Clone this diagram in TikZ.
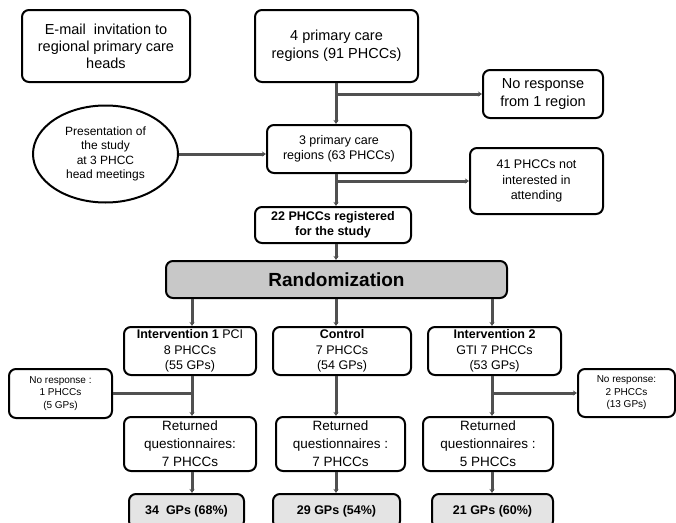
\documentclass[tikz,border=0pt]{standalone}
\usepackage{fontspec}
\setmainfont{Liberation Sans}
\usetikzlibrary{shapes,arrows.meta,positioning,calc}

\definecolor{linegray}{HTML}{505050}
\definecolor{randgray}{HTML}{C8C8C8}
\definecolor{gpgray}{HTML}{E4E4E4}

\tikzset{
    box/.style={draw,line width=2pt,rounded corners=7pt,align=center,inner sep=1pt},
    oval/.style={draw,ellipse,line width=2pt,align=center,inner sep=0pt},
    large/.style={font=\fontsize{14.5}{18}\selectfont},
    retfont/.style={font=\fontsize{13.5}{18}\selectfont},
    medium/.style={font=\fontsize{12.5}{15.5}\selectfont},
    mediumbold/.style={font=\fontsize{12.5}{15}\selectfont\bfseries},
    tiny/.style={font=\fontsize{10}{12.5}\selectfont},
    link/.style={draw=linegray,line width=3pt},
    arr/.style={link,-{Stealth[length=4pt,width=5pt]}}
}

\begin{document}
\begin{tikzpicture}[x=1pt,y=-1pt]
    \useasboundingbox (0,0) rectangle (676,522);

    % column lines
    \coordinate (col1) at (192,0);
    \coordinate (col2) at (336,0);
    \coordinate (col3) at (492,0);

    % top row
    \node[box,font=\fontsize{14.5}{17}\selectfont,minimum width=168pt,minimum height=72pt] (email) at (106,46)
        {E-mail\ \ invitation to\\regional primary care\\heads};
    \node[box,large,minimum width=163pt,minimum height=72pt] (four) at (336.5,46)
        {4 primary care\\regions (91 PHCCs)};
    \node[box,large,minimum width=120pt,minimum height=48pt] (noresp) at (543,94)
        {No response\\from 1 region};

    % regions
    \node[box,medium,minimum width=144pt,minimum height=48pt] (three) at (339,149)
        {3 primary care\\regions (63 PHCCs)};
    \node[oval,font=\fontsize{12}{14.3}\selectfont,minimum width=145pt,minimum height=97pt] (pres) at (105.5,154)
        {Presentation of\\the study\\at 3 PHCC\\head meetings};
    \node[box,medium,minimum width=133pt,minimum height=66pt] (notint) at (536.5,181)
        {41 PHCCs not\\interested in\\attending};
    \node[box,mediumbold,minimum width=156pt,minimum height=36pt] (reg) at (333,225)
        {22 PHCCs registered\\for the study};

    % randomization
    \node[box,fill=randgray,font=\fontsize{19}{22}\selectfont\bfseries,minimum width=341pt,minimum height=37pt] (rand) at (336.5,279.5)
        {Randomization};

    % arms
    \node[box,medium,minimum width=132pt,minimum height=48pt] (int1) at (190,351)
        {\textbf{Intervention 1} PCI\\8 PHCCs\\(55 GPs)};
    \node[box,medium,minimum width=138pt,minimum height=48pt] (ctrl) at (342,351)
        {\textbf{Control}\\7 PHCCs\\(54 GPs)};
    \node[box,medium,minimum width=133pt,minimum height=48pt] (int2) at (494.5,351)
        {\textbf{Intervention 2}\\GTI 7 PHCCs\\(53 GPs)};

    % drop outs
    \node[box,tiny,minimum width=103pt,minimum height=49pt] (nr1) at (60.5,393.5)
        {No response :\\1 PHCCs\\(5 GPs)};
    \node[box,tiny,minimum width=97pt,minimum height=48pt] (nr2) at (626.5,393)
        {No response:\\2 PHCCs\\(13 GPs)};

    % returned
    \node[box,retfont,minimum width=132pt,minimum height=54pt] (ret1) at (190,444)
        {Returned\\questionnaires:\\7 PHCCs};
    \node[box,retfont,minimum width=129pt,minimum height=54pt] (ret2) at (340.5,444)
        {Returned\\questionnaires :\\7 PHCCs};
    \node[box,retfont,minimum width=130pt,minimum height=54pt] (ret3) at (488,444)
        {Returned\\questionnaires :\\5 PHCCs};

    % GPs
    \node[box,mediumbold,fill=gpgray,minimum width=115pt,minimum height=34pt] (gp1) at (186.5,511)
        {34\ \ GPs (68\%)};
    \node[box,mediumbold,fill=gpgray,minimum width=127pt,minimum height=34pt] (gp2) at (336.5,511)
        {29 GPs (54\%)};
    \node[box,mediumbold,fill=gpgray,minimum width=121pt,minimum height=34pt] (gp3) at (492.5,511)
        {21 GPs (60\%)};

    % connectors, top part
    \draw[arr] (four.south -| col2) -- (three.north -| col2);
    \draw[arr] (noresp.west -| col2) -- (noresp.west);
    \draw[arr] (pres.east) -- (pres.east -| three.west);
    \draw[arr] (three.south -| col2) -- (reg.north -| col2);
    \draw[arr] (notint.west -| col2) -- (notint.west);
    \draw[arr] (reg.south -| col2) -- (rand.north -| col2);

    % connectors, arms
    \draw[arr] (rand.south -| col1) -- (int1.north -| col1);
    \draw[arr] (rand.south -| col2) -- (ctrl.north -| col2);
    \draw[arr] (rand.south -| col3) -- (int2.north -| col3);

    \draw[arr] (int1.south -| col1) -- (ret1.north -| col1);
    \draw[link] (nr1.east -| col1) -- (nr1.east);
    \draw[arr] (ctrl.south -| col2) -- (ret2.north -| col2);
    \draw[arr] (int2.south -| col3) -- (ret3.north -| col3);
    \draw[arr] (nr2.west -| col3) -- (nr2.west);

    \draw[arr] (ret1.south -| col1) -- (gp1.north -| col1);
    \draw[arr] (ret2.south -| col2) -- (gp2.north -| col2);
    \draw[arr] (ret3.south -| col3) -- (gp3.north -| col3);
\end{tikzpicture}
\end{document}
